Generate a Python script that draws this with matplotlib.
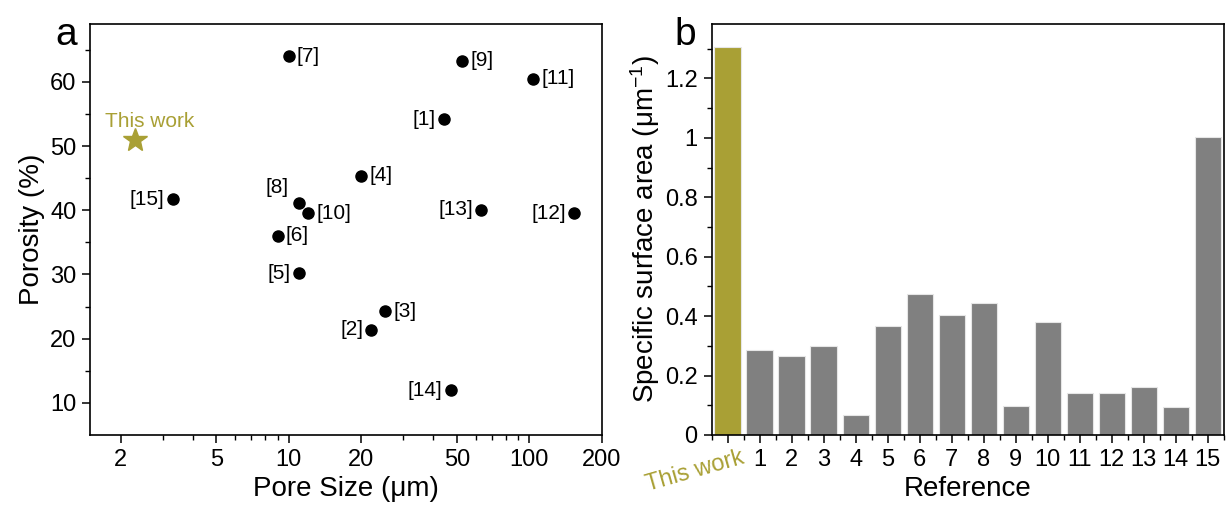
import numpy as np
import matplotlib
matplotlib.use("Agg")
import matplotlib.pyplot as plt
import matplotlib.transforms as mtransforms
from matplotlib.ticker import FixedLocator, NullFormatter

plt.rcParams["font.family"] = ["Liberation Sans", "DejaVu Sans"]
plt.rcParams["mathtext.fontset"] = "custom"
plt.rcParams["mathtext.rm"] = "Liberation Sans"
plt.rcParams["mathtext.it"] = "Liberation Sans:italic"

OLIVE = "#a9a035"
GRAY = "#808080"

# ---------- data: panel a (pore size vs porosity) ----------
ref_names = ["[1]", "[2]", "[3]", "[4]", "[5]", "[6]", "[7]", "[8]",
             "[9]", "[10]", "[11]", "[12]", "[13]", "[14]", "[15]"]
pore_size = [44.2, 22.1, 25.1, 20.0, 11.0, 9.0, 10.0, 11.0,
             52.4, 12.0, 103.5, 154.0, 63.2, 47.1, 3.3]
porosity = [54.2, 21.4, 24.3, 45.4, 30.2, 36.0, 64.0, 41.2,
            63.3, 39.5, 60.5, 39.5, 40.1, 12.0, 41.7]
label_side = ["left", "left", "right", "right", "left", "right", "right", "upleft",
              "right", "right", "right", "left", "left", "left", "left"]
this_pore = 2.3
this_porosity = 50.9

# ---------- data: panel b (specific surface area) ----------
bar_labels = ["This work"] + [str(i) for i in range(1, 16)]
ssa = [1.304, 0.287, 0.266, 0.299, 0.067, 0.366, 0.473, 0.405,
       0.444, 0.096, 0.381, 0.142, 0.142, 0.160, 0.095, 1.002]

fig = plt.figure(figsize=(12.26, 5.14), dpi=100)
ax1 = fig.add_axes([0.0738, 0.1537, 0.4169, 0.7996])
ax2 = fig.add_axes([0.5804, 0.1537, 0.4178, 0.7996])

TICK_FS = 17
LABEL_FS = 20
ANN_FS = 15

# ---------- panel a ----------
ax1.set_xscale("log")
ax1.plot(pore_size, porosity, "o", color="black", ms=8, ls="none")
ax1.plot([this_pore], [this_porosity], "*", color=OLIVE, ms=18, ls="none")
ax1.text(this_pore * 1.155, this_porosity + 2.0, "This work", color=OLIVE,
         fontsize=ANN_FS, ha="center", va="baseline")

offsets = {"right": ((6, 0), "left", "center"),
           "left": ((-6, 0), "right", "center"),
           "upleft": ((-7, 4), "right", "bottom")}
for name, xv, yv, side in zip(ref_names, pore_size, porosity, label_side):
    off, ha, va = offsets[side]
    ax1.annotate(name, (xv, yv), xytext=off, textcoords="offset points",
                 ha=ha, va=va, fontsize=ANN_FS)

ax1.set_xlim(1.5, 200)
ax1.set_ylim(5, 69)
ax1.xaxis.set_major_locator(FixedLocator([2, 5, 10, 20, 50, 100, 200]))
ax1.set_xticklabels(["2", "5", "10", "20", "50", "100", "200"])
ax1.xaxis.set_minor_locator(FixedLocator([3, 4, 6, 7, 8, 9, 30, 40, 60, 70, 80, 90]))
ax1.xaxis.set_minor_formatter(NullFormatter())
ax1.set_yticks([10, 20, 30, 40, 50, 60])
ax1.yaxis.set_minor_locator(FixedLocator([15, 25, 35, 45, 55, 65]))
ax1.set_xlabel("Pore Size (μm)", fontsize=LABEL_FS, labelpad=4)
ax1.set_ylabel("Porosity (%)", fontsize=LABEL_FS)

# ---------- panel b ----------
x = np.arange(len(ssa))
colors = [OLIVE] + [GRAY] * (len(ssa) - 1)
ax2.bar(x, ssa, width=0.82, color=colors, edgecolor="#e6e6e6", linewidth=0.8)
ax2.set_xlim(-0.5, 15.5)
ax2.set_ylim(0, 1.383)
ax2.set_xticks(x)
ax2.set_xticklabels([""] + bar_labels[1:])
ax2.xaxis.set_minor_locator(FixedLocator(np.arange(-0.5, 16, 1.0)))
ax2.set_yticks([0, 0.2, 0.4, 0.6, 0.8, 1.0, 1.2])
ax2.set_yticklabels(["0", "0.2", "0.4", "0.6", "0.8", "1", "1.2"])
ax2.yaxis.set_minor_locator(FixedLocator(np.arange(0.1, 1.35, 0.2)))
ax2.set_xlabel("Reference", fontsize=LABEL_FS, labelpad=4)
ax2.set_ylabel("Specific surface area (μm$^{-1}$)", fontsize=LABEL_FS, labelpad=2)
trans = mtransforms.blended_transform_factory(ax2.transData, ax2.transAxes)
ax2.text(0.6, -0.028, bar_labels[0], transform=trans, rotation=16,
         ha="right", va="top", color=OLIVE, fontsize=TICK_FS)

for ax in (ax1, ax2):
    for sp in ax.spines.values():
        sp.set_linewidth(1.2)
    ax.tick_params(which="major", direction="out", length=6, width=1.1,
                   labelsize=TICK_FS, top=False, right=False, pad=4)
    ax.tick_params(which="minor", direction="out", length=3.5, width=1.0,
                   top=False, right=False)

fig.text(0.054, 0.912, "a", fontsize=28, ha="center", va="baseline")
fig.text(0.559, 0.912, "b", fontsize=28, ha="center", va="baseline")

fig.savefig("out.png", dpi=100)
